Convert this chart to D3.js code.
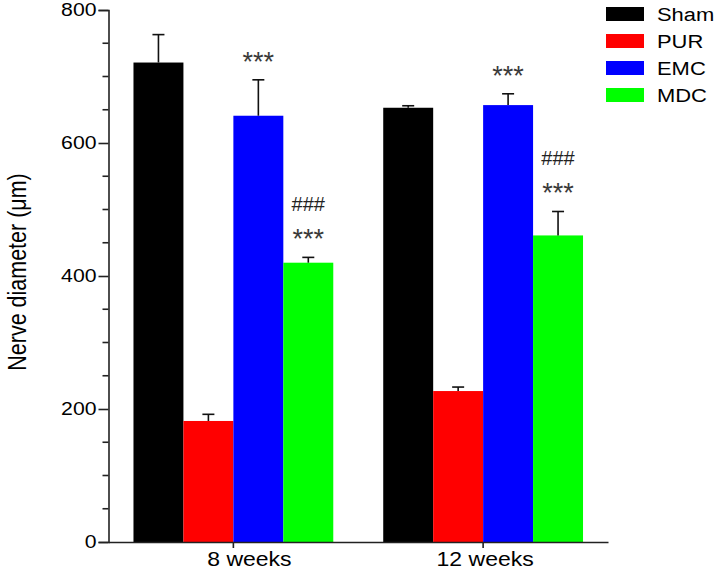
<!DOCTYPE html>
<html>
<head>
<meta charset="utf-8">
<script src="https://cdn.jsdelivr.net/npm/d3@7"></script>
<style>
  html, body { margin: 0; padding: 0; background: #fff; }
  svg text { font-family: "Liberation Sans", Arial, sans-serif; }
</style>
</head>
<body>
<svg id="chart" width="717" height="569"></svg>
<script>
// ---- data ----
const groups = ["8 weeks", "12 weeks"];
const seriesNames = ["Sham", "PUR", "EMC", "MDC"];
const seriesColors = ["#000000", "#ff0000", "#0000ff", "#00ff00"];
const shamValues = [721, 653];
const shamErrors = [42, 3];
const purValues = [182, 227];
const purErrors = [10, 6];
const emcValues = [641, 657];
const emcErrors = [54, 17];
const mdcValues = [420, 461];
const mdcErrors = [8, 36];
const emcMarks = [["***"], ["***"]];
const mdcMarks = [["###", "***"], ["###", "***"]];
const yTicks = [0, 200, 400, 600, 800];
const yMinorTicks = [50, 100, 150, 250, 300, 350, 450, 500, 550, 650, 700, 750];
const yLabel = "Nerve diameter (μm)";

const seriesValues = [shamValues, purValues, emcValues, mdcValues];
const seriesErrors = [shamErrors, purErrors, emcErrors, mdcErrors];
const seriesMarks = [null, null, emcMarks, mdcMarks];

const rows = [];
groups.forEach((g, gi) => {
  seriesNames.forEach((s, si) => {
    rows.push({group: g, series: s, color: seriesColors[si],
      value: seriesValues[si][gi], err: seriesErrors[si][gi],
      marks: seriesMarks[si] ? seriesMarks[si][gi] : null});
  });
});

// horizontal stretch of text (the reference glyphs are wider than tall)
const SX = 1.18;
function stretch(sel) {
  sel.each(function () {
    const t = d3.select(this);
    const x = +t.attr("x") || 0;
    t.attr("x", x / SX).attr("transform", `scale(${SX},1)`);
  });
}

// ---- layout ----
const svg = d3.select("#chart");
const x0 = d3.scaleBand().domain(groups).range([108.5, 608]).paddingInner(0.2).paddingOuter(0.1);
const x1 = d3.scaleBand().domain(seriesNames).range([0, x0.bandwidth()]);
const y = d3.scaleLinear().domain([0, 800]).range([542, 10]);

// bars
svg.append("g").selectAll("rect").data(rows).join("rect")
  .attr("x", d => x0(d.group) + x1(d.series))
  .attr("y", d => y(d.value))
  .attr("width", x1.bandwidth())
  .attr("height", d => y(0) - y(d.value))
  .attr("fill", d => d.color);

// error bars (upper only)
const eb = svg.append("g").attr("stroke", "#111").attr("stroke-width", 1.6);
rows.forEach(d => {
  const cx = x0(d.group) + x1(d.series) + x1.bandwidth() / 2;
  eb.append("line").attr("x1", cx).attr("x2", cx).attr("y1", y(d.value)).attr("y2", y(d.value + d.err));
  eb.append("line").attr("x1", cx - 6).attr("x2", cx + 6).attr("y1", y(d.value + d.err)).attr("y2", y(d.value + d.err));
});

// significance marks
rows.filter(d => d.marks).forEach(d => {
  const cx = x0(d.group) + x1(d.series) + x1.bandwidth() / 2;
  const top = y(d.value + d.err);
  const n = d.marks.length;
  d.marks.forEach((m, i) => {
    const level = n - 1 - i; // 0 nearest bar
    const cy = top - 24 - level * 29;
    if (m === "***") {
      svg.append("text").attr("x", cx).attr("y", cy + 15)
        .attr("text-anchor", "middle").attr("font-size", 27).attr("fill", "#3a3a3a").text(m);
    } else {
      svg.append("text").attr("x", cx).attr("y", cy + 7)
        .attr("text-anchor", "middle").attr("font-size", 20).attr("fill", "#222").text(m);
    }
  });
});

// y axis
const yAxis = svg.append("g").attr("transform", "translate(108.5,0)")
  .call(d3.axisLeft(y).tickValues(yTicks).tickSize(10).tickPadding(2));
yAxis.selectAll("text").attr("font-size", 18).attr("fill", "#000").call(stretch);
yAxis.select(".domain").attr("stroke", "#222").attr("stroke-width", 1.6);
yAxis.selectAll(".tick line").attr("stroke", "#222").attr("stroke-width", 1.6);
svg.append("g").attr("transform", "translate(108.5,0)")
  .selectAll("line").data(yMinorTicks).join("line")
  .attr("x1", -6).attr("x2", 0).attr("y1", d => y(d)).attr("y2", d => y(d))
  .attr("stroke", "#222").attr("stroke-width", 1.6);

// x axis
const xAxis = svg.append("g").attr("transform", "translate(0,542)")
  .call(d3.axisBottom(x0).tickSize(6).tickPadding(4).tickSizeOuter(0));
xAxis.selectAll("text").attr("font-size", 19.5).attr("fill", "#000")
  .attr("x", (d, i) => i === 0 ? 16 : 2).call(stretch);
xAxis.select(".domain").attr("stroke", "#222").attr("stroke-width", 1.6);
xAxis.selectAll(".tick line").attr("stroke", "#222").attr("stroke-width", 1.6);

// y label
svg.append("text").attr("transform", "translate(26,272) rotate(-90) scale(1,1.18)")
  .attr("text-anchor", "middle").attr("font-size", 21.5).attr("fill", "#000").text(yLabel);

// legend
const legend = svg.append("g").attr("transform", "translate(606,7)");
seriesNames.forEach((s, i) => {
  const g = legend.append("g").attr("transform", `translate(0,${i * 27})`);
  g.append("rect").attr("width", 38).attr("height", 14).attr("fill", seriesColors[i]);
  g.append("text").attr("x", 51).attr("y", 7).attr("dy", "0.35em")
    .attr("font-size", 18.6).attr("fill", "#000").text(s).call(stretch);
});
</script>
</body>
</html>
